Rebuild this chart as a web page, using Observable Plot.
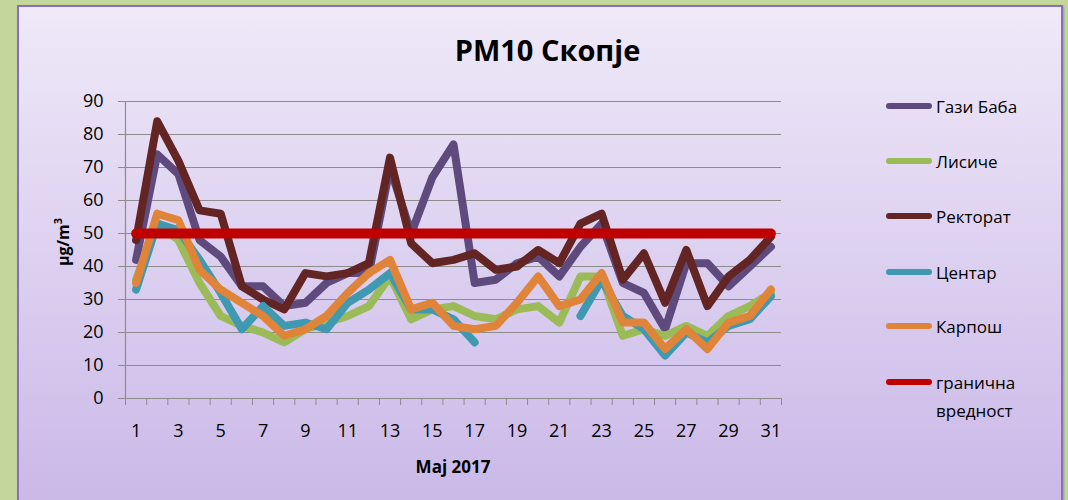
<!DOCTYPE html>
<html>
<head>
<meta charset="utf-8">
<script src="https://cdn.jsdelivr.net/npm/d3@7"></script>
<script src="https://cdn.jsdelivr.net/npm/@observablehq/plot@0.6"></script>
<style>
  html, body { margin: 0; padding: 0; }
  body { width: 1068px; height: 500px; background: #C3D69B; position: relative; overflow: hidden;
         font-family: "Comic Sans MS", "Open Sans", "Noto Sans", sans-serif; }
  #frame { position: absolute; left: 17px; top: 5px; width: 1042px; height: 500px;
           border: 2px solid #8A6CC0; border-bottom: none;
           background: linear-gradient(#EFE9F8, #CAB8E8); box-shadow: 1px 1px 2px rgba(0,0,0,0.25); }
  #chart { position: absolute; left: 0; top: 0; }
  .title { position: absolute; left: 0; width: 1095px; top: 30px; text-align: center;
           font-size: 29px; font-weight: bold; color: #000; }
  .ylabel { position: absolute; left: 62px; top: 242px; transform: translate(-50%, -50%) rotate(-90deg);
            font-size: 16px; font-weight: bold; white-space: nowrap; }
  .xlabel { position: absolute; left: 453px; top: 466px; transform: translate(-50%, -50%);
            font-size: 17px; font-weight: bold; }
  .legend { position: absolute; left: 886px; top: 0; }
  .item { position: absolute; left: 0; display: flex; align-items: flex-start; font-size: 17px; white-space: nowrap; }
  .swatch { width: 46px; height: 6px; border-radius: 3px; margin-right: 4px; margin-top: 8px; }
</style>
</head>
<body>
<div id="frame"></div>
<div id="chart"></div>
<div class="title">PM10 Скопје</div>
<div class="ylabel">μg/m<sup style="font-size:11px">3</sup></div>
<div class="xlabel">Maj 2017</div>
<div class="legend" id="legend"></div>
<script>
const days = d3.range(1, 32);
const seriesNames = ["Гази Баба", "Лисиче", "Ректорат", "Центар", "Карпош", "гранична вредност"];
const seriesColors = ["#5F4A7E", "#9BBB59", "#632523", "#3F9AB1", "#E0843A", "#C00000"];
const xTickLabels = [1, 3, 5, 7, 9, 11, 13, 15, 17, 19, 21, 23, 25, 27, 29, 31];
const yTicks = [0, 10, 20, 30, 40, 50, 60, 70, 80, 90];

const gaziBaba = [42, 74, 68, 48, 43, 34, 34, 28, 29, 35, 38, 38, 70, 50, 67, 77, 35, 36, 41, 43, 37, 46, 53, 35, 32, 21, 41, 41, 34, 40, 46];
const lisiche  = [36, 53, 48, 35, 25, 22, 20, 17, 21, 23, 25, 28, 37, 24, 27, 28, 25, 24, 27, 28, 23, 37, 37, 19, 21, 19, 22, 19, 25, 28, 32];
const rektorat = [48, 84, 72, 57, 56, 34, 30, 27, 38, 37, 38, 41, 73, 47, 41, 42, 44, 39, 40, 45, 41, 53, 56, 36, 44, 29, 45, 28, 37, 42, 49];
const centar   = [33, 53, 51, 42, 32, 21, 28, 22, 23, 21, 29, 33, 38, 27, 27, 24, 17, null, null, null, null, 25, 36, 25, 21, 13, 20, 17, 22, 24, 31];
const karposh  = [35, 56, 54, 39, 33, 29, 25, 19, 21, 25, 32, 38, 42, 27, 29, 22, 21, 22, 29, 37, 28, 30, 38, 23, 23, 15, 21, 15, 23, 25, 33];
const granichna = days.map(() => 50);

const seriesValues = [gaziBaba, lisiche, rektorat, centar, karposh, granichna];

const rows = [];
seriesNames.forEach((name, i) => {
  days.forEach((d, j) => rows.push({series: name, day: d, value: seriesValues[i][j] == null ? NaN : seriesValues[i][j]}));
});

const halfTicks = d3.range(0.5, 32, 1);

const font = '"Comic Sans MS", "Open Sans", "Noto Sans", sans-serif';

const marks = [
  Plot.gridY(yTicks, {stroke: "#8C8C8C", strokeOpacity: 1, strokeWidth: 1.2, x1: 0.5, x2: 31.5}),
  Plot.axisY(yTicks, {tickSize: 7, tickPadding: 15, stroke: "#8C8C8C", fontSize: 18, fill: "#000", label: null}),
  Plot.ruleX([0.5], {stroke: "#8C8C8C", strokeWidth: 1.2}),
  Plot.ruleY([0], {stroke: "#8C8C8C", strokeWidth: 1.2}),
  Plot.axisX(halfTicks, {tickSize: 7, tickFormat: () => "", stroke: "#8C8C8C", label: null}),
  Plot.axisX(xTickLabels, {tickSize: 0, tickPadding: 26, fontSize: 18, fill: "#000", label: null})
];
seriesNames.forEach((name, i) => {
  marks.push(Plot.line(rows.filter(r => r.series === name), {
    x: "day", y: "value",
    stroke: seriesColors[i],
    strokeWidth: i === 5 ? 10 : 8,
    strokeLinejoin: "round",
    strokeLinecap: "round"
  }));
});

const plot = Plot.plot({
  width: 1068,
  height: 500,
  marginLeft: 125,
  marginRight: 287,
  marginTop: 101,
  marginBottom: 102,
  x: {type: "linear", domain: [0.5, 31.5]},
  y: {domain: [0, 90]},
  style: {background: "transparent", fontFamily: font, overflow: "visible"},
  marks
});
document.getElementById("chart").appendChild(plot);

const legendY = [107, 162, 217, 273, 327, 383];
const legend = document.getElementById("legend");
seriesNames.forEach((name, i) => {
  const item = document.createElement("div");
  item.className = "item";
  item.style.top = (legendY[i] - 12) + "px";
  const sw = document.createElement("div");
  sw.className = "swatch";
  sw.style.background = seriesColors[i];
  const label = document.createElement("div");
  label.style.lineHeight = "28px";
  label.style.marginTop = "-2px";
  if (i === 5) label.innerHTML = "гранична<br>вредност";
  else label.textContent = name;
  item.appendChild(sw);
  item.appendChild(label);
  legend.appendChild(item);
});
</script>
</body>
</html>
